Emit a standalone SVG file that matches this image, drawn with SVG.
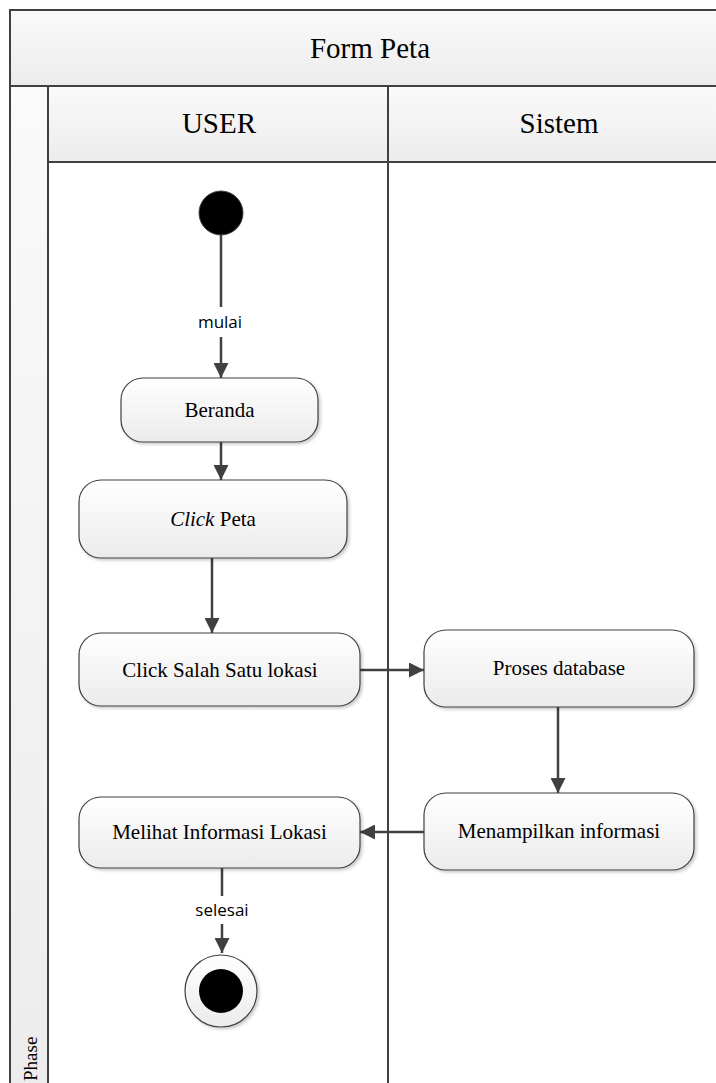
<svg xmlns="http://www.w3.org/2000/svg" width="716" height="1083" viewBox="0 0 716 1083">
  <style>
    .frame { fill: url(#hdr); stroke: #404040; stroke-width: 2; }
    .lane { fill: none; stroke: #404040; stroke-width: 2; }
    .act { fill: url(#nodeFill); stroke: #404040; stroke-width: 1.2; filter: url(#shadow); }
    .hdrText { font-family: "Liberation Serif", serif; font-size: 29px; fill: #000; text-anchor: middle; }
    .actText { font-family: "Liberation Serif", serif; font-size: 21px; fill: #000; text-anchor: middle; }
    .phaseText { font-family: "Liberation Serif", serif; font-size: 19px; fill: #000; }
    .lbl { font-family: "Open Sans", "Liberation Sans", sans-serif; font-size: 17px; fill: #000; text-anchor: middle; }
    .edge { fill: none; stroke: #404040; stroke-width: 2.5; }
  </style>
  <defs>
    <linearGradient id="hdr" x1="0" y1="0" x2="0" y2="1">
      <stop offset="0" stop-color="#fafafa"/>
      <stop offset="1" stop-color="#ececec"/>
    </linearGradient>
    <linearGradient id="nodeFill" x1="0" y1="0" x2="0" y2="1">
      <stop offset="0" stop-color="#ffffff"/>
      <stop offset="1" stop-color="#ebebeb"/>
    </linearGradient>
    <filter id="shadow" x="-10%" y="-10%" width="125%" height="130%">
      <feDropShadow dx="2" dy="2" stdDeviation="1.5" flood-color="#000" flood-opacity="0.2"/>
    </filter>
    <marker id="arrow" viewBox="0 0 10 10" refX="10" refY="5" markerWidth="6" markerHeight="6" markerUnits="strokeWidth" orient="auto">
      <path d="M0,0 L10,5 L0,10 z" fill="#404040"/>
    </marker>
  </defs>

  <rect width="716" height="1083" fill="#ffffff"/>

  <!-- pool header and lanes -->
  <g id="pool">
    <rect class="frame" x="10" y="10" width="720" height="76"/>
    <text class="hdrText" x="370" y="58">Form Peta</text>
    <rect class="frame" x="10" y="86" width="38" height="1010"/>
    <rect class="frame" x="48" y="86" width="340" height="76"/>
    <rect class="frame" x="388" y="86" width="340" height="76"/>
    <text class="hdrText" x="219" y="133">USER</text>
    <text class="hdrText" x="559" y="133">Sistem</text>
    <line class="lane" x1="48" y1="162" x2="48" y2="1083"/>
    <line class="lane" x1="388" y1="162" x2="388" y2="1083"/>
    <text class="phaseText" transform="translate(37,1081) rotate(-90)">Phase</text>
  </g>

  <!-- connectors -->
  <g id="connectors">
    <line class="edge" x1="221" y1="235" x2="221" y2="307"/>
    <line class="edge" x1="221" y1="337" x2="221" y2="378" marker-end="url(#arrow)"/>
    <text class="lbl" x="220" y="328">mulai</text>
    <line class="edge" x1="221" y1="442" x2="221" y2="480" marker-end="url(#arrow)"/>
    <line class="edge" x1="212" y1="558" x2="212" y2="633" marker-end="url(#arrow)"/>
    <line class="edge" x1="360" y1="670" x2="424" y2="670" marker-end="url(#arrow)"/>
    <line class="edge" x1="558" y1="707" x2="558" y2="793" marker-end="url(#arrow)"/>
    <line class="edge" x1="424" y1="832" x2="360" y2="832" marker-end="url(#arrow)"/>
    <line class="edge" x1="222" y1="868" x2="222" y2="896"/>
    <line class="edge" x1="222" y1="924" x2="222" y2="953" marker-end="url(#arrow)"/>
    <text class="lbl" x="222" y="916">selesai</text>
  </g>

  <g id="start">
    <circle cx="221" cy="213" r="22" fill="#000" stroke="#404040" stroke-width="1"/>
  </g>

  <g id="beranda">
    <rect class="act" x="121" y="378" width="197" height="64" rx="22"/>
    <text class="actText" x="219.5" y="417">Beranda</text>
  </g>

  <g id="click-peta">
    <rect class="act" x="79" y="480" width="268" height="78" rx="22"/>
    <text class="actText" x="213" y="526"><tspan font-style="italic">Click</tspan> Peta</text>
  </g>

  <g id="click-lokasi">
    <rect class="act" x="79" y="633" width="281" height="73" rx="22"/>
    <text class="actText" x="220" y="677">Click Salah Satu lokasi</text>
  </g>

  <g id="proses-database">
    <rect class="act" x="424" y="630" width="270" height="77" rx="22"/>
    <text class="actText" x="559" y="675">Proses database</text>
  </g>

  <g id="menampilkan-informasi">
    <rect class="act" x="424" y="793" width="270" height="77" rx="22"/>
    <text class="actText" x="559" y="838">Menampilkan informasi</text>
  </g>

  <g id="melihat-informasi">
    <rect class="act" x="79" y="797" width="281" height="71" rx="22"/>
    <text class="actText" x="219.5" y="839">Melihat Informasi Lokasi</text>
  </g>

  <g id="end">
    <circle cx="221" cy="991" r="36" fill="url(#nodeFill)" stroke="#404040" stroke-width="1.2" filter="url(#shadow)"/>
    <circle cx="221" cy="991" r="22" fill="#000"/>
  </g>
</svg>
